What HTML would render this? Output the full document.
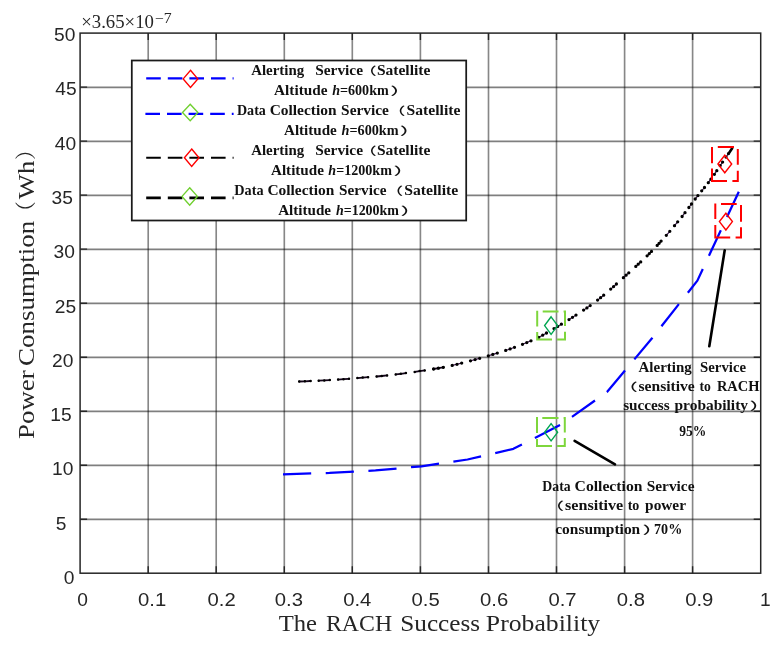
<!DOCTYPE html>
<html lang="en"><head><meta charset="utf-8"><title>Power Consumption vs RACH Success Probability</title>
<style>html,body{margin:0;padding:0;background:#fff}svg{display:block}.tk{font-family:"Liberation Sans",sans-serif;font-size:19.2px;fill:#262626}.lb{font-family:"Liberation Serif","Noto Serif CJK SC",serif;font-size:22.8px;fill:#262626}.lg{font-family:"Liberation Serif","Noto Serif CJK SC",serif;font-weight:bold;font-size:14.5px;fill:#111}.pn{font-family:"Liberation Sans","Noto Sans CJK SC",sans-serif;font-weight:500;font-size:11px;fill:#111}.ex{font-family:"Liberation Serif",serif;font-size:17.8px;fill:#262626}.ex2{font-family:"Liberation Serif",serif;font-size:14.7px;fill:#262626}</style></head><body>
<svg width="778" height="646" viewBox="0 0 778 646">
<rect width="778" height="646" fill="#fff"/>
<path d="M148.2 33.1 V573.2 M216.2 33.1 V573.2 M284.3 33.1 V573.2 M352.3 33.1 V573.2 M420.4 33.1 V573.2 M488.5 33.1 V573.2 M556.5 33.1 V573.2 M624.6 33.1 V573.2 M692.6 33.1 V573.2" stroke="#000" stroke-opacity="0.47" stroke-width="1.65" fill="none"/>
<path d="M80.1 519.44 H760.7 M80.1 465.43 H760.7 M80.1 411.42 H760.7 M80.1 357.41 H760.7 M80.1 303.40 H760.7 M80.1 249.39 H760.7 M80.1 195.38 H760.7 M80.1 141.37 H760.7 M80.1 87.36 H760.7" stroke="#000" stroke-opacity="0.5" stroke-width="1.7" fill="none"/>
<path d="M148.2 573.2 v-7 M148.2 33.1 v7 M80.1 519.2 h7 M760.7 519.2 h-7 M216.2 573.2 v-7 M216.2 33.1 v7 M80.1 465.2 h7 M760.7 465.2 h-7 M284.3 573.2 v-7 M284.3 33.1 v7 M80.1 411.2 h7 M760.7 411.2 h-7 M352.3 573.2 v-7 M352.3 33.1 v7 M80.1 357.2 h7 M760.7 357.2 h-7 M420.4 573.2 v-7 M420.4 33.1 v7 M80.1 303.2 h7 M760.7 303.2 h-7 M488.5 573.2 v-7 M488.5 33.1 v7 M80.1 249.1 h7 M760.7 249.1 h-7 M556.5 573.2 v-7 M556.5 33.1 v7 M80.1 195.1 h7 M760.7 195.1 h-7 M624.6 573.2 v-7 M624.6 33.1 v7 M80.1 141.1 h7 M760.7 141.1 h-7 M692.6 573.2 v-7 M692.6 33.1 v7 M80.1 87.1 h7 M760.7 87.1 h-7" stroke="#262626" stroke-width="1.4" fill="none"/>
<path d="M299.2 381.5 L304.9 381.3 L310.6 381.0 M318.7 380.7 L324.3 380.4 L329.8 380.1 M338.1 379.6 L343.5 379.2 L349.0 378.8 M357.4 378.1 L362.7 377.6 L368.1 377.2 M376.6 376.5 L381.8 376.0 L387.1 375.4 M395.7 374.4 L400.8 373.8 L405.9 373.1 M414.7 371.9 L419.7 371.1 L424.7 370.4 M433.6 369.0 L438.4 368.2 L443.3 367.3" stroke="#14041a" stroke-width="1.8" stroke-linecap="round" fill="none"/>
<path d="M452.2 365.4 L457.0 364.3 L461.7 363.1 M470.5 360.8 L475.1 359.6 L479.7 358.3 M488.3 355.8 L492.8 354.4 L497.3 353.1 M505.7 350.4 L510.1 348.9 L514.5 347.3 M522.5 344.3 L526.8 342.6 L531.0 340.8 M538.8 337.3 L542.7 335.2 L546.5 333.0 M554.0 328.6 L557.7 326.4 L561.4 324.2 M569.0 319.6 L572.5 317.3 L576.0 315.1 M583.6 310.1 L586.9 307.9 L590.2 305.6 M597.6 300.1 L600.6 297.7 L603.7 295.2 M610.7 289.1 L613.6 286.6 L616.4 284.0 M623.4 277.7 L626.1 275.2 L628.8 272.8 M635.8 266.4 L638.2 264.2 L640.7 261.9 M647.1 255.8 L649.3 253.6 L651.5 251.4 M657.2 245.4 L659.1 243.3 L661.1 241.1 M666.3 235.3 L669.8 231.3 M674.5 225.7 L677.7 221.8 M682.1 216.5 L685.0 212.7 M688.9 207.5 L691.5 204.0 M695.2 199.0 L697.9 195.6 M701.7 190.8 L704.5 187.5 M708.3 182.7 L710.9 179.2 M714.4 174.3 L716.8 170.7 M720.2 165.6 L722.6 162.1 M726.0 157.1 L728.5 153.6" stroke="#3a1048" stroke-width="1.1" stroke-linecap="round" fill="none"/>
<path d="M729.0 153.0 L732.2 148.2" stroke="#000" stroke-width="2.6" stroke-linecap="round" fill="none"/>
<path d="M299.2 381.5h0 M304.9 381.3h0 M310.6 381.0h0 M318.7 380.7h0 M324.3 380.4h0 M329.8 380.1h0 M338.1 379.6h0 M343.5 379.2h0 M349.0 378.8h0 M357.4 378.1h0 M362.7 377.6h0 M368.1 377.2h0 M376.6 376.5h0 M381.8 376.0h0 M387.1 375.4h0 M395.7 374.4h0 M400.8 373.8h0 M405.9 373.1h0 M414.7 371.9h0 M419.7 371.1h0 M424.7 370.4h0 M433.6 369.0h0 M438.4 368.2h0 M443.3 367.3h0" stroke="#000" stroke-width="2.5" stroke-linecap="round" fill="none"/>
<path d="M433.6 369.0h0 M438.4 368.2h0 M443.3 367.3h0 M452.2 365.4h0 M457.0 364.3h0 M461.7 363.1h0 M470.5 360.8h0 M475.1 359.6h0 M479.7 358.3h0 M488.3 355.8h0 M492.8 354.4h0 M497.3 353.1h0 M505.7 350.4h0 M510.1 348.9h0 M514.5 347.3h0 M522.5 344.3h0 M526.8 342.6h0 M531.0 340.8h0 M538.8 337.3h0 M542.7 335.2h0 M546.5 333.0h0 M554.0 328.6h0 M557.7 326.4h0 M561.4 324.2h0 M569.0 319.6h0 M572.5 317.3h0 M576.0 315.1h0 M583.6 310.1h0 M586.9 307.9h0 M590.2 305.6h0 M597.6 300.1h0 M600.6 297.7h0 M603.7 295.2h0 M610.7 289.1h0 M613.6 286.6h0 M616.4 284.0h0 M623.4 277.7h0 M626.1 275.2h0 M628.8 272.8h0 M635.8 266.4h0 M638.2 264.2h0 M640.7 261.9h0 M647.1 255.8h0 M649.3 253.6h0 M651.5 251.4h0 M657.2 245.4h0 M659.1 243.3h0 M661.1 241.1h0 M666.3 235.3h0 M669.8 231.3h0 M674.5 225.7h0 M677.7 221.8h0 M682.1 216.5h0 M685.0 212.7h0 M688.9 207.5h0 M691.5 204.0h0 M695.2 199.0h0 M697.9 195.6h0 M701.7 190.8h0 M704.5 187.5h0 M708.3 182.7h0 M710.9 179.2h0 M714.4 174.3h0 M716.8 170.7h0 M720.2 165.6h0 M722.6 162.1h0 M726.0 157.1h0 M728.5 153.6h0" stroke="#000" stroke-width="3.3" stroke-linecap="round" fill="none"/>
<path d="M283.0 474.3 L329.5 472.9 L375.5 470.4 L421.5 466.3 L467.5 459.5 L513.4 448.8 L561.0 424.6 L607.0 392.0 L652.0 338.3 L697.4 280.6 L738.8 191.7" stroke="#0000ff" stroke-width="2.25" stroke-dasharray="28.2 14.55" stroke-linejoin="round" fill="none"/>
<rect x="80.1" y="33.1" width="680.6" height="540.1" fill="none" stroke="#262626" stroke-width="1.5"/>
<path d="M542.7 311.5 H558.5 M563.6 311.5 H566 M565 310.5 V326.1 M565 331.7 V340.6 M566 339.6 H557.1 M552 339.6 H536.2 M537.2 310.8 V326.6 M537.2 332.1 V340.6" stroke="#7ed63c" stroke-width="2" fill="none"/>
<path d="M551.1 316.8 L557.6 325.6 L551.1 334.40000000000003 L544.6 325.6 Z" stroke="#00a651" stroke-width="1.4" fill="none" stroke-linejoin="miter"/>
<path d="M542.3 418.1 H558.5 M563.6 418.1 H565.8 M564.8 417.1 V432.5 M564.8 438.1 V447.1 M565.8 446.1 H557.1 M552 446.1 H536 M537 417.1 V433 M537 439 V447.1" stroke="#7ed63c" stroke-width="2" fill="none"/>
<path d="M551.1 423.7 L557.6 432.3 L551.1 440.90000000000003 L544.6 432.3 Z" stroke="#00a651" stroke-width="1.4" fill="none" stroke-linejoin="miter"/>
<path d="M717.8 147.1 H734 M737.8 149.1 V164.8 M737.8 170.8 V182 M738.8 181 H732.4 M727 181 H711 M712 146.9 V163.2 M712 168.6 V182" stroke="#ff0000" stroke-width="2" fill="none"/>
<path d="M724.8 155.2 L731.6999999999999 164.0 L724.8 172.8 L717.9 164.0 Z" stroke="#ff0000" stroke-width="1.4" fill="none" stroke-linejoin="miter"/>
<path d="M721 204 H736.7 M741 205 V221.8 M741 227.3 V238.5 M742 237.5 H735.6 M730.2 237.5 H714.3 M715.3 203.4 V219.1 M715.3 225.1 V238.5" stroke="#ff0000" stroke-width="2" fill="none"/>
<path d="M725.9 213.2 L732.4 221.6 L725.9 230.0 L719.4 221.6 Z" stroke="#ff0000" stroke-width="1.4" fill="none" stroke-linejoin="miter"/>
<path d="M724.7 250.3 L709.3 346.3" stroke="#000" stroke-width="2.6" stroke-linecap="round" fill="none"/>
<path d="M574.6 440.8 L615 464.3" stroke="#000" stroke-width="2.6" stroke-linecap="round" fill="none"/>
<rect x="131.8" y="60.5" width="334.4" height="160" fill="#fff" stroke="#1a1a1a" stroke-width="1.75"/>
<path d="M146.2 78.4 H233.6" stroke="#0000ff" stroke-width="2.3" stroke-dasharray="14.6 7" fill="none"/>
<path d="M190.5 70.30000000000001 L197.8 78.9 L190.5 87.5 L183.2 78.9 Z" stroke="#ff0000" stroke-width="1.4" fill="none" stroke-linejoin="miter"/>
<path d="M145.4 113.9 H233.6" stroke="#0000ff" stroke-width="2.3" stroke-dasharray="14.6 7" fill="none"/>
<path d="M190.2 104.2 L197.89999999999998 112.5 L190.2 120.8 L182.5 112.5 Z" stroke="#70d030" stroke-width="1.4" fill="none" stroke-linejoin="miter"/>
<path d="M146.2 157.7 H233.6" stroke="#000" stroke-width="1.9" stroke-dasharray="14.6 7" fill="none"/>
<path d="M191.7 149.0 L199.0 157.7 L191.7 166.39999999999998 L184.39999999999998 157.7 Z" stroke="#ff0000" stroke-width="1.4" fill="none" stroke-linejoin="miter"/>
<path d="M146.2 197.9 H233.6" stroke="#000" stroke-width="2.6" stroke-dasharray="14.6 7" fill="none"/>
<path d="M189.7 187.70000000000002 L197.39999999999998 196.4 L189.7 205.1 L182.0 196.4 Z" stroke="#70d030" stroke-width="1.4" fill="none" stroke-linejoin="miter"/>
<text class="lg" x="251.20" y="74.8" textLength="52.95" lengthAdjust="spacingAndGlyphs">Alerting</text>
<text class="lg" x="315.21" y="74.8" textLength="47.76" lengthAdjust="spacingAndGlyphs">Service</text>
<text class="pn" x="358.75" y="74.8" textLength="17.97" lengthAdjust="spacingAndGlyphs">（</text>
<text class="lg" x="376.90" y="74.8" textLength="53.47" lengthAdjust="spacingAndGlyphs">Satellite</text>
<text class="lg" x="274.10" y="94.6" textLength="53.36" lengthAdjust="spacingAndGlyphs">Altitude</text>
<text class="lg" x="332.16" y="94.6" textLength="56.57" lengthAdjust="spacingAndGlyphs"><tspan font-style="italic">h</tspan>=600km</text>
<text class="pn" x="390.23" y="94.6" textLength="21.27" lengthAdjust="spacingAndGlyphs">）</text>
<text class="lg" x="236.96" y="115.3" textLength="28.95" lengthAdjust="spacingAndGlyphs">Data</text>
<text class="lg" x="269.70" y="115.3" textLength="66.85" lengthAdjust="spacingAndGlyphs">Collection</text>
<text class="lg" x="341.11" y="115.3" textLength="47.76" lengthAdjust="spacingAndGlyphs">Service</text>
<text class="pn" x="387.55" y="115.3" textLength="17.97" lengthAdjust="spacingAndGlyphs">（</text>
<text class="lg" x="406.59" y="115.3" textLength="53.78" lengthAdjust="spacingAndGlyphs">Satellite</text>
<text class="lg" x="284.00" y="134.7" textLength="52.76" lengthAdjust="spacingAndGlyphs">Altitude</text>
<text class="lg" x="341.55" y="134.7" textLength="57.07" lengthAdjust="spacingAndGlyphs"><tspan font-style="italic">h</tspan>=600km</text>
<text class="pn" x="399.73" y="134.7" textLength="21.27" lengthAdjust="spacingAndGlyphs">）</text>
<text class="lg" x="251.20" y="154.8" textLength="52.95" lengthAdjust="spacingAndGlyphs">Alerting</text>
<text class="lg" x="315.21" y="154.8" textLength="47.76" lengthAdjust="spacingAndGlyphs">Service</text>
<text class="pn" x="358.75" y="154.8" textLength="17.97" lengthAdjust="spacingAndGlyphs">（</text>
<text class="lg" x="376.90" y="154.8" textLength="53.47" lengthAdjust="spacingAndGlyphs">Satellite</text>
<text class="lg" x="271.00" y="174.5" textLength="52.86" lengthAdjust="spacingAndGlyphs">Altitude</text>
<text class="lg" x="328.36" y="174.5" textLength="63.57" lengthAdjust="spacingAndGlyphs"><tspan font-style="italic">h</tspan>=1200km</text>
<text class="pn" x="393.43" y="174.5" textLength="21.27" lengthAdjust="spacingAndGlyphs">）</text>
<text class="lg" x="234.25" y="195.4" textLength="29.35" lengthAdjust="spacingAndGlyphs">Data</text>
<text class="lg" x="267.40" y="195.4" textLength="66.95" lengthAdjust="spacingAndGlyphs">Collection</text>
<text class="lg" x="339.11" y="195.4" textLength="47.35" lengthAdjust="spacingAndGlyphs">Service</text>
<text class="pn" x="385.25" y="195.4" textLength="17.97" lengthAdjust="spacingAndGlyphs">（</text>
<text class="lg" x="404.19" y="195.4" textLength="54.09" lengthAdjust="spacingAndGlyphs">Satellite</text>
<text class="lg" x="278.20" y="214.8" textLength="52.86" lengthAdjust="spacingAndGlyphs">Altitude</text>
<text class="lg" x="335.96" y="214.8" textLength="62.97" lengthAdjust="spacingAndGlyphs"><tspan font-style="italic">h</tspan>=1200km</text>
<text class="pn" x="400.43" y="214.8" textLength="21.27" lengthAdjust="spacingAndGlyphs">）</text>
<text class="lg" x="638.50" y="372.4" textLength="53.25" lengthAdjust="spacingAndGlyphs">Alerting</text>
<text class="lg" x="700.03" y="372.4" textLength="46.02" lengthAdjust="spacingAndGlyphs">Service</text>
<text class="pn" x="617.90" y="391.2" textLength="19.80" lengthAdjust="spacingAndGlyphs">（</text>
<text class="lg" x="638.56" y="391.2" textLength="56.22" lengthAdjust="spacingAndGlyphs">sensitive</text>
<text class="lg" x="699.56" y="391.2" textLength="11.40" lengthAdjust="spacingAndGlyphs">to</text>
<text class="lg" x="716.95" y="391.2" textLength="42.45" lengthAdjust="spacingAndGlyphs">RACH</text>
<text class="lg" x="623.17" y="410.4" textLength="46.55" lengthAdjust="spacingAndGlyphs">success</text>
<text class="lg" x="674.53" y="410.4" textLength="73.50" lengthAdjust="spacingAndGlyphs">probability</text>
<text class="pn" x="749.53" y="410.4" textLength="21.27" lengthAdjust="spacingAndGlyphs">）</text>
<text class="lg" x="679.13" y="435.5" textLength="27.03" lengthAdjust="spacingAndGlyphs">95%</text>
<text class="lg" x="542.36" y="490.7" textLength="28.33" lengthAdjust="spacingAndGlyphs">Data</text>
<text class="lg" x="574.59" y="490.7" textLength="67.86" lengthAdjust="spacingAndGlyphs">Collection</text>
<text class="lg" x="646.71" y="490.7" textLength="47.76" lengthAdjust="spacingAndGlyphs">Service</text>
<text class="pn" x="544.65" y="509.8" textLength="19.43" lengthAdjust="spacingAndGlyphs">（</text>
<text class="lg" x="565.04" y="509.8" textLength="58.15" lengthAdjust="spacingAndGlyphs">sensitive</text>
<text class="lg" x="627.66" y="509.8" textLength="11.72" lengthAdjust="spacingAndGlyphs">to</text>
<text class="lg" x="645.14" y="509.8" textLength="40.85" lengthAdjust="spacingAndGlyphs">power</text>
<text class="lg" x="555.27" y="533.9" textLength="84.93" lengthAdjust="spacingAndGlyphs">consumption</text>
<text class="pn" x="642.63" y="533.9" textLength="21.27" lengthAdjust="spacingAndGlyphs">）</text>
<text class="lg" x="654.07" y="533.9" textLength="28.14" lengthAdjust="spacingAndGlyphs">70%</text>
<text class="ex" x="81.22" y="28.3" textLength="72.74" lengthAdjust="spacingAndGlyphs">×3.65×10</text>
<text class="ex2" x="154.79" y="22.7" textLength="16.83" lengthAdjust="spacingAndGlyphs">−7</text>
<text class="lb" x="278.76" y="631.2" textLength="38.30" lengthAdjust="spacingAndGlyphs">The</text>
<text class="lb" x="325.92" y="631.2" textLength="66.20" lengthAdjust="spacingAndGlyphs">RACH</text>
<text class="lb" x="400.24" y="631.2" textLength="79.90" lengthAdjust="spacingAndGlyphs">Success</text>
<text class="lb" x="485.85" y="631.2" textLength="114.33" lengthAdjust="spacingAndGlyphs">Probability</text>
<text class="tk" x="82.5" y="606" text-anchor="middle">0</text>
<text class="tk" x="152.1" y="606" textLength="28.2" lengthAdjust="spacingAndGlyphs" text-anchor="middle">0.1</text>
<text class="tk" x="221.7" y="606" textLength="28.2" lengthAdjust="spacingAndGlyphs" text-anchor="middle">0.2</text>
<text class="tk" x="288.9" y="606" textLength="28.2" lengthAdjust="spacingAndGlyphs" text-anchor="middle">0.3</text>
<text class="tk" x="357.3" y="606" textLength="28.2" lengthAdjust="spacingAndGlyphs" text-anchor="middle">0.4</text>
<text class="tk" x="425.7" y="606" textLength="28.2" lengthAdjust="spacingAndGlyphs" text-anchor="middle">0.5</text>
<text class="tk" x="494.1" y="606" textLength="28.2" lengthAdjust="spacingAndGlyphs" text-anchor="middle">0.6</text>
<text class="tk" x="562.5" y="606" textLength="28.2" lengthAdjust="spacingAndGlyphs" text-anchor="middle">0.7</text>
<text class="tk" x="630.9" y="606" textLength="28.2" lengthAdjust="spacingAndGlyphs" text-anchor="middle">0.8</text>
<text class="tk" x="699.3" y="606" textLength="28.2" lengthAdjust="spacingAndGlyphs" text-anchor="middle">0.9</text>
<text class="tk" x="765.3" y="606" text-anchor="middle">1</text>
<text class="tk" x="74.5" y="584.0" text-anchor="end">0</text>
<text class="tk" x="66.4" y="529.7" text-anchor="end">5</text>
<text class="tk" x="73.4" y="475.4" text-anchor="end">10</text>
<text class="tk" x="71.7" y="421.1" text-anchor="end">15</text>
<text class="tk" x="73.4" y="366.8" text-anchor="end">20</text>
<text class="tk" x="76.1" y="312.5" text-anchor="end">25</text>
<text class="tk" x="74.9" y="258.2" text-anchor="end">30</text>
<text class="tk" x="72.9" y="203.9" text-anchor="end">35</text>
<text class="tk" x="76.2" y="149.6" text-anchor="end">40</text>
<text class="tk" x="76.7" y="95.3" text-anchor="end">45</text>
<text class="tk" x="75.4" y="41.0" text-anchor="end">50</text>
<text class="lb" transform="translate(33.5,438.1) rotate(-90)" x="-0.88" y="0" textLength="68.70" lengthAdjust="spacingAndGlyphs">Power</text>
<text class="lb" transform="translate(33.5,364.8) rotate(-90)" x="-1.18" y="0" textLength="145.23" lengthAdjust="spacingAndGlyphs">Consumption</text>
<text class="lb" transform="translate(33.5,199.2) rotate(-90)" x="-0.00" y="0" textLength="38.39" lengthAdjust="spacingAndGlyphs">Wh</text>
<text class="lb" style="font-size:21px" transform="translate(32.9,222.2) rotate(-90)">（</text>
<text class="lb" style="font-size:21px" transform="translate(32.9,159.9) rotate(-90)">）</text>
</svg></body></html>
